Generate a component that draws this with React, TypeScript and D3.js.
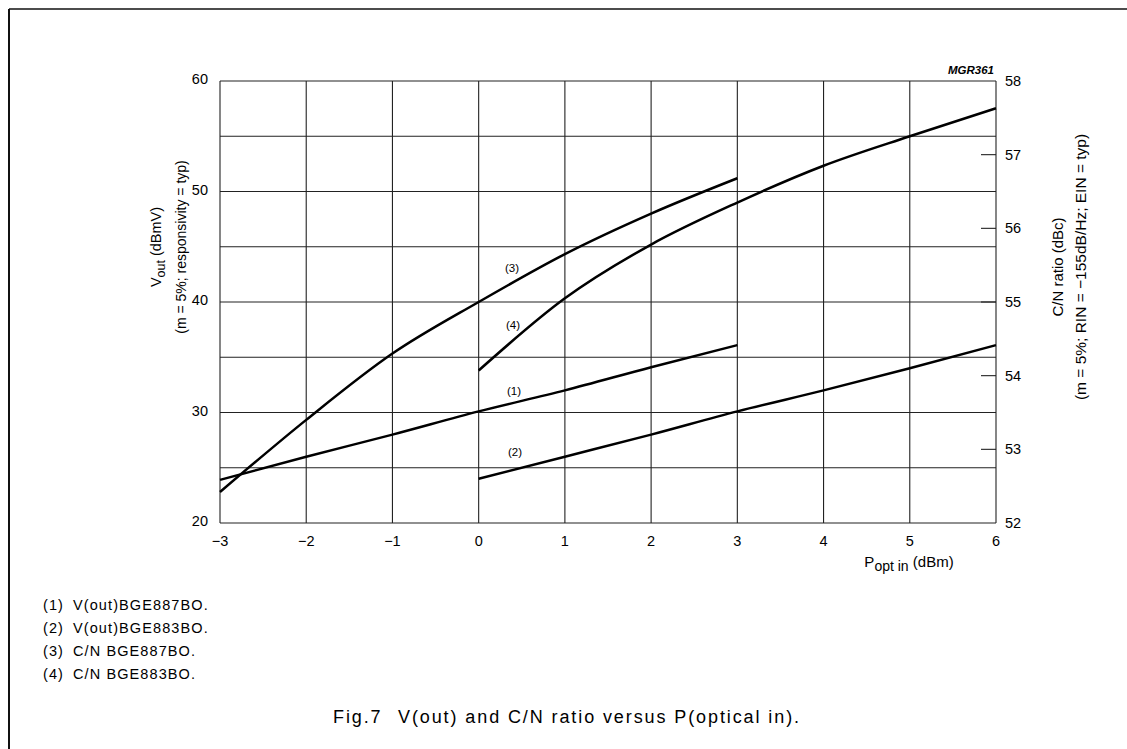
import React from "react";
import * as d3 from "d3";

// x positions (dBm) and curve values
const xLeftRange = [-3, -2, -1, 0, 1, 2, 3];
const xRightRange = [0, 1, 2, 3, 4, 5, 6];
const voutBGE887 = [23.9, 26.0, 28.0, 30.1, 32.0, 34.1, 36.1]; // (1) left axis
const voutBGE883 = [24.0, 26.0, 28.0, 30.1, 32.0, 34.0, 36.1]; // (2) left axis
const cnBGE887 = [52.42, 53.4, 54.3, 55.0, 55.65, 56.2, 56.68]; // (3) right axis
const cnBGE883 = [54.07, 55.05, 55.78, 56.35, 56.85, 57.25, 57.63]; // (4) right axis

const xTicks = [-3, -2, -1, 0, 1, 2, 3, 4, 5, 6];
const leftGrid = [20, 25, 30, 35, 40, 45, 50, 55, 60];
const leftLabels = [20, 30, 40, 50, 60];
const rightTicks = [52, 53, 54, 55, 56, 57, 58];

const legendItems = [
  "V(out)BGE887BO.",
  "V(out)BGE883BO.",
  "C/N BGE887BO.",
  "C/N BGE883BO.",
];

const FONT = "'Liberation Sans', Arial, Helvetica, sans-serif";

const App: React.FC = () => {
  const width = 1127;
  const height = 749;
  const plot = { left: 220, right: 996, top: 81, bottom: 523 };

  const x = d3.scaleLinear().domain([-3, 6]).range([plot.left, plot.right]);
  const yL = d3.scaleLinear().domain([20, 60]).range([plot.bottom, plot.top]);
  const yR = d3.scaleLinear().domain([52, 58]).range([plot.bottom, plot.top]);

  const lineL = d3
    .line<[number, number]>()
    .x((d) => x(d[0]))
    .y((d) => yL(d[1]))
    .curve(d3.curveMonotoneX);
  const lineR = d3
    .line<[number, number]>()
    .x((d) => x(d[0]))
    .y((d) => yR(d[1]))
    .curve(d3.curveMonotoneX);

  const zip = (xs: number[], ys: number[]) =>
    xs.map((v, i) => [v, ys[i]] as [number, number]);

  const curves = [
    lineL(zip(xLeftRange, voutBGE887)),
    lineL(zip(xRightRange, voutBGE883)),
    lineR(zip(xLeftRange, cnBGE887)),
    lineR(zip(xRightRange, cnBGE883)),
  ];

  const midL = (plot.top + plot.bottom) / 2;

  return (
    <svg
      width={width}
      height={height}
      style={{ position: "absolute", left: 0, top: 0, background: "#fff" }}
      fontFamily={FONT}
    >
      {/* outer frame */}
      <line x1={9} y1={9} x2={width} y2={9} stroke="#111" strokeWidth={1.5} />
      <line x1={9} y1={9} x2={9} y2={height} stroke="#111" strokeWidth={2} />

      {/* grid */}
      {leftGrid.map((v) => (
        <line
          key={"h" + v}
          x1={plot.left}
          x2={plot.right}
          y1={yL(v)}
          y2={yL(v)}
          stroke="#222"
          strokeWidth={1.1}
        />
      ))}
      {xTicks.map((v) => (
        <line
          key={"v" + v}
          x1={x(v)}
          x2={x(v)}
          y1={plot.top}
          y2={plot.bottom}
          stroke="#222"
          strokeWidth={1.1}
        />
      ))}
      {/* right-axis inner ticks */}
      {rightTicks.slice(1, -1).map((v) => (
        <line
          key={"r" + v}
          x1={plot.right - 15}
          x2={plot.right}
          y1={yR(v)}
          y2={yR(v)}
          stroke="#222"
          strokeWidth={1.1}
        />
      ))}

      {/* curves */}
      {curves.map((d, i) => (
        <path key={i} d={d ?? ""} fill="none" stroke="#000" strokeWidth={2.5} />
      ))}

      {/* curve labels */}
      <g fontSize={11.5} fill="#000" textAnchor="middle">
        <text x={514} y={395}>(1)</text>
        <text x={515} y={456}>(2)</text>
        <text x={512} y={272}>(3)</text>
        <text x={513} y={329}>(4)</text>
      </g>

      {/* left tick labels */}
      <g fontSize={14.5} textAnchor="end">
        {leftLabels.map((v) => (
          <text key={v} x={plot.left - 12} y={yL(v) + 3}>
            {v}
          </text>
        ))}
      </g>
      {/* right tick labels */}
      <g fontSize={14.5} textAnchor="start">
        {rightTicks.map((v) => (
          <text key={v} x={plot.right + 9} y={yR(v) + 5}>
            {v}
          </text>
        ))}
      </g>
      {/* x tick labels */}
      <g fontSize={14.5} textAnchor="middle">
        {xTicks.map((v) => (
          <text key={v} x={x(v)} y={plot.bottom + 23}>
            {v < 0 ? "\u2212" + Math.abs(v) : v}
          </text>
        ))}
      </g>

      {/* axis titles */}
      <text x={909} y={567} fontSize={15} textAnchor="middle">
        P<tspan fontSize={14} dy={4}>opt in</tspan>
        <tspan dy={-4}> (dBm)</tspan>
      </text>
      <g transform={`translate(161, ${midL - 55}) rotate(-90)`}>
        <text fontSize={14.5} textAnchor="middle">
          V<tspan fontSize={12.5} dy={4}>out</tspan>
          <tspan dy={-4}> (dBmV)</tspan>
        </text>
      </g>
      <g transform={`translate(186, ${midL - 55}) rotate(-90)`}>
        <text fontSize={14} textAnchor="middle">
          (m = 5%; responsivity = typ)
        </text>
      </g>
      <g transform={`translate(1063, ${midL - 35}) rotate(-90)`}>
        <text fontSize={15} textAnchor="middle">
          C/N ratio (dBc)
        </text>
      </g>
      <g transform={`translate(1086, ${midL - 35}) rotate(-90)`}>
        <text fontSize={15.5} textAnchor="middle">
          (m = 5%; RIN = {"\u2212"}155dB/Hz; EIN = typ)
        </text>
      </g>

      {/* figure code */}
      <text
        x={plot.right - 2}
        y={74}
        fontSize={11.5}
        fontStyle="italic"
        fontWeight="bold"
        textAnchor="end"
      >
        MGR361
      </text>

      {/* legend */}
      <g fontSize={14.5} letterSpacing={1.1}>
        {legendItems.map((t, i) => (
          <g key={t} transform={`translate(0, ${610 + i * 23})`}>
            <text x={43}>({i + 1})</text>
            <text x={73}>{t}</text>
          </g>
        ))}
      </g>

      {/* caption */}
      <g fontSize={18} letterSpacing={1.9}>
        <text x={333} y={723}>Fig.7</text>
        <text x={398} y={723}>V(out) and C/N ratio versus P(optical in).</text>
      </g>
    </svg>
  );
};

export default App;
